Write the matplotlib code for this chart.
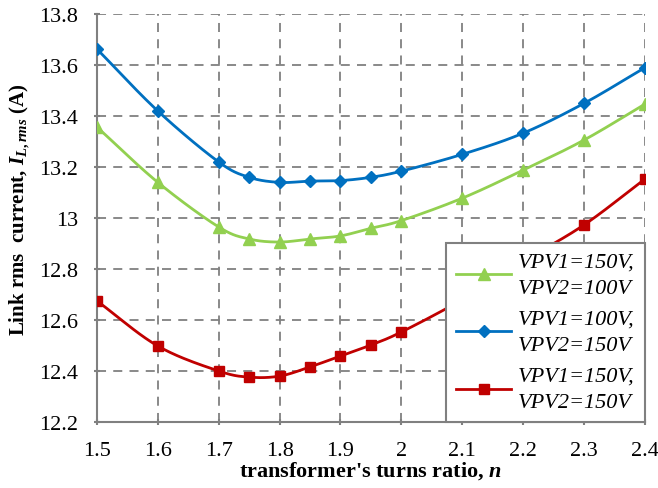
import matplotlib
matplotlib.use("Agg")
import matplotlib.pyplot as plt
import numpy as np

plt.rcParams['font.family'] = 'Liberation Serif'
plt.rcParams['mathtext.fontset'] = 'custom'
plt.rcParams['mathtext.rm'] = 'Liberation Serif:bold'
plt.rcParams['mathtext.it'] = 'Liberation Serif:italic:bold'
plt.rcParams['mathtext.bf'] = 'Liberation Serif:bold'

# turns ratio n and link rms current (A)
n = [1.5, 1.6, 1.7, 1.75, 1.8, 1.85, 1.9, 1.95, 2.0, 2.1, 2.2, 2.3, 2.4]
i_150_100 = [13.357, 13.14, 12.965, 12.918, 12.906, 12.918, 12.93, 12.96, 12.99, 13.078, 13.188, 13.306, 13.447]
i_100_150 = [13.663, 13.42, 13.22, 13.16, 13.14, 13.145, 13.147, 13.16, 13.184, 13.25, 13.333, 13.45, 13.59]
i_150_150 = [12.675, 12.498, 12.4, 12.376, 12.38, 12.416, 12.459, 12.502, 12.553, 12.68, 12.83, 12.973, 13.153]

labels = ['VPV1=150V,\nVPV2=100V', 'VPV1=100V,\nVPV2=150V', 'VPV1=150V,\nVPV2=150V']
colors = ['#92D050', '#0070C0', '#C00000']
markers = ['^', 'D', 's']
msizes = [8, 6, 6.5]


def smooth(x, y, steps=20):
    # Catmull-Rom style curve through the points (like spreadsheet smoothed lines)
    x = np.asarray(x, float)
    y = np.asarray(y, float)
    px = np.concatenate([[2 * x[0] - x[1]], x, [2 * x[-1] - x[-2]]])
    py = np.concatenate([[2 * y[0] - y[1]], y, [2 * y[-1] - y[-2]]])
    xs, ys = [], []
    t = np.linspace(0, 1, steps, endpoint=False)
    for k in range(1, len(px) - 2):
        for p, out in ((px, xs), (py, ys)):
            p0, p1, p2, p3 = p[k - 1], p[k], p[k + 1], p[k + 2]
            out.extend(0.5 * ((2 * p1) + (-p0 + p2) * t
                              + (2 * p0 - 5 * p1 + 4 * p2 - p3) * t ** 2
                              + (-p0 + 3 * p1 - 3 * p2 + p3) * t ** 3))
    xs.append(x[-1])
    ys.append(y[-1])
    return np.array(xs), np.array(ys)


fig = plt.figure(figsize=(6.58, 4.89), dpi=100)
ax = fig.add_axes([0.1474, 0.135, 0.8326, 0.834])

for y, lab, c, m, ms in zip([i_150_100, i_100_150, i_150_150], labels, colors, markers, msizes):
    sx, sy = smooth(n, y)
    ax.plot(sx, sy, color=c, lw=2, zorder=3)
    ax.plot(n, y, ls='none', marker=m, ms=ms, color=c, zorder=4)
    ax.plot([], [], color=c, lw=2, marker=m, ms=ms, label=lab)

ax.set_xlim(1.5, 2.4)
ax.set_ylim(12.2, 13.8)
ax.set_xticks(np.arange(1.5, 2.41, 0.1))
ax.set_xticklabels(['1.5', '1.6', '1.7', '1.8', '1.9', '2', '2.1', '2.2', '2.3', '2.4'])
ax.set_yticks(np.arange(12.2, 13.81, 0.2))
ax.set_yticklabels(['12.2', '12.4', '12.6', '12.8', '13', '13.2', '13.4', '13.6', '13.8'])
ax.tick_params(labelsize=16, length=5, width=1.5, color='#808080', direction='inout')
ax.tick_params(axis='x', pad=11)
ax.tick_params(axis='y', pad=11)

ax.grid(True, ls=(0, (5, 4)), color='#808080', lw=1.3)
for s in ['top', 'right']:
    ax.spines[s].set_visible(False)
for s in ['left', 'bottom']:
    ax.spines[s].set_color('#808080')
    ax.spines[s].set_linewidth(1.5)
ax.set_axisbelow(True)

ax.set_xlabel("transformer's turns ratio, $n$", fontsize=16, fontweight='bold')
ax.xaxis.set_label_coords(0.5, -0.09)
ax.set_ylabel("Link rms  current, $I_{L,rms}$ (A)", fontsize=15, fontweight='bold')
ax.yaxis.set_label_coords(-0.119, 0.522)

leg = ax.legend(loc='lower right', borderaxespad=0, fancybox=False, framealpha=1,
                edgecolor='#808080', prop={'style': 'italic', 'size': 16},
                handlelength=2.5, labelspacing=0.55, borderpad=0.45, handletextpad=0.3)
for t in leg.get_texts():
    t.set_linespacing(1.5)
leg.get_frame().set_linewidth(1.5)
leg.set_zorder(5)

fig.savefig('out.png', dpi=100)
